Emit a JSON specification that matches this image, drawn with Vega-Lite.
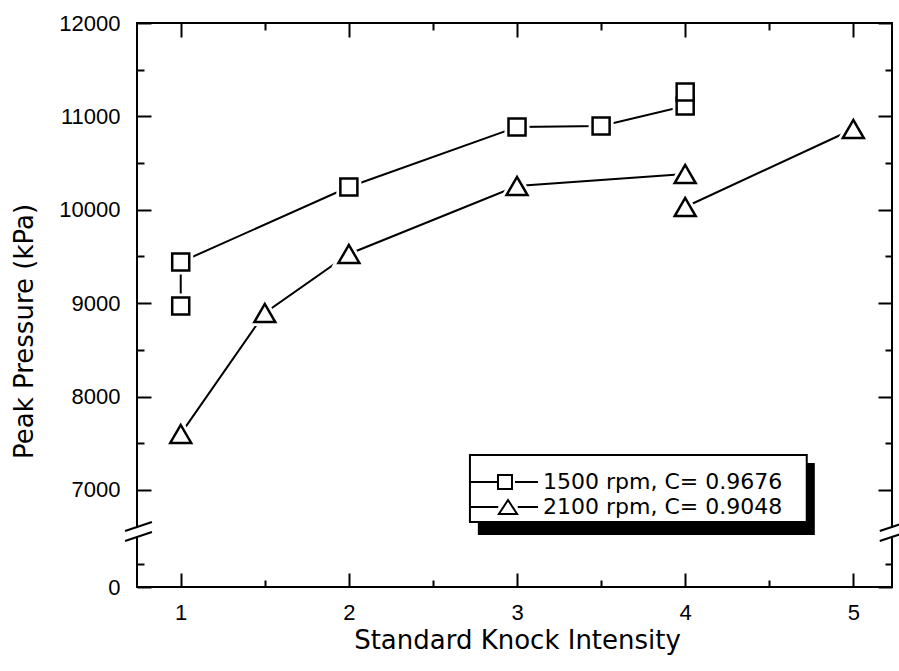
{
  "$schema": "https://vega.github.io/schema/vega-lite/v6.json",
  "width": 755,
  "height": 564,
  "autosize": {"type": "none"},
  "padding": {"left": 137, "top": 23, "right": 7, "bottom": 84},
  "background": "white",
  "config": {
    "view": {"stroke": "black", "strokeWidth": 2},
    "axis": {
      "tickColor": "black", "tickWidth": 2, "labelColor": "black", "titleColor": "black",
      "domain": false, "grid": false, "labelFont": "Liberation Sans", "labelFontSize": 22,
      "titleFont": "DejaVu Sans", "titleFontSize": 26, "titleFontWeight": "normal"
    }
  },
  "datasets": {
    "pts": [
      {"series": "1500 rpm, C= 0.9676", "seg": "a", "ord": 1, "x": 1, "y": 8970},
      {"series": "1500 rpm, C= 0.9676", "seg": "a", "ord": 2, "x": 1, "y": 9440},
      {"series": "1500 rpm, C= 0.9676", "seg": "a", "ord": 3, "x": 2, "y": 10244},
      {"series": "1500 rpm, C= 0.9676", "seg": "a", "ord": 4, "x": 3, "y": 10886},
      {"series": "1500 rpm, C= 0.9676", "seg": "a", "ord": 5, "x": 3.5, "y": 10897},
      {"series": "1500 rpm, C= 0.9676", "seg": "a", "ord": 6, "x": 4, "y": 11111},
      {"series": "1500 rpm, C= 0.9676", "seg": "a", "ord": 7, "x": 4, "y": 11261},
      {"series": "2100 rpm, C= 0.9048", "seg": "b", "ord": 1, "x": 1, "y": 7600},
      {"series": "2100 rpm, C= 0.9048", "seg": "b", "ord": 2, "x": 1.5, "y": 8895},
      {"series": "2100 rpm, C= 0.9048", "seg": "b", "ord": 3, "x": 2, "y": 9527},
      {"series": "2100 rpm, C= 0.9048", "seg": "b", "ord": 4, "x": 3, "y": 10255},
      {"series": "2100 rpm, C= 0.9048", "seg": "b", "ord": 5, "x": 4, "y": 10383},
      {"series": "2100 rpm, C= 0.9048", "seg": "c", "ord": 1, "x": 4, "y": 10030},
      {"series": "2100 rpm, C= 0.9048", "seg": "c", "ord": 2, "x": 5, "y": 10865}
    ],
    "brk": [
      {"x": 0.669, "y": 6561, "x2": 0.829, "y2": 6657},
      {"x": 0.669, "y": 492, "x2": 0.829, "y2": 589},
      {"x": 5.157, "y": 6561, "x2": 5.318, "y2": 6657},
      {"x": 5.157, "y": 492, "x2": 5.318, "y2": 589}
    ],
    "gap": [
      {"x": 0.669, "y": 546, "x2": 0.829, "y2": 6604},
      {"x": 5.157, "y": 546, "x2": 5.318, "y2": 6604}
    ],
    "box": [{"x": 2.720, "x2": 4.723, "y": 7375, "y2": 6657}],
    "shadow": [{"x": 2.767, "x2": 4.771, "y": 7289, "y2": 557}]
  },
  "layer": [
    {
      "data": {"name": "pts"},
      "mark": {"type": "line", "color": "black", "strokeWidth": 2},
      "encoding": {
        "x": {"field": "x", "type": "quantitative", "scale": {"domain": [0.74, 5.23], "nice": false, "zero": false},
          "axis": {"orient": "bottom", "values": [1, 2, 3, 4, 5], "format": "d", "labelFont": "Liberation Sans", "labelFontSize": 22, "tickSize": -14, "labelPadding": 29, "title": "Standard Knock Intensity", "titleX": 380, "titleY": 61, "titleAlign": "center", "titleBaseline": "alphabetic", "titleAnchor": null}},
        "y": {"field": "y", "type": "quantitative", "scale": {"domain": [0, 589, 6550, 12000], "range": [564, 509, 509, 0], "nice": false, "zero": false},
          "axis": {"orient": "left", "values": [0, 7000, 8000, 9000, 10000, 11000, 12000], "format": "d", "labelFont": "Liberation Sans", "labelFontSize": 22, "tickSize": -14, "labelPadding": 31, "title": "Peak Pressure (kPa)", "titleX": -113, "titleY": 308, "titleAngle": -90, "titleAlign": "center", "titleBaseline": "middle", "titleAnchor": null}},
        "detail": {"field": "seg"},
        "order": {"field": "ord", "type": "quantitative"}
      }
    },
    {
      "data": {"name": "pts"},
      "mark": {"type": "point", "filled": true, "fill": "white", "stroke": "white", "strokeWidth": 8, "opacity": 1, "size": 290},
      "encoding": {
        "x": {"field": "x", "type": "quantitative", "scale": {"domain": [0.74, 5.23], "nice": false, "zero": false},
          "axis": {"orient": "top", "values": [1, 2, 3, 4, 5], "tickSize": -14, "labels": false, "title": null}},
        "y": {"field": "y", "type": "quantitative", "scale": {"domain": [0, 589, 6550, 12000], "range": [564, 509, 509, 0], "nice": false, "zero": false},
          "axis": {"orient": "right", "values": [0, 7000, 8000, 9000, 10000, 11000, 12000], "tickSize": -14, "labels": false, "title": null}},
        "shape": {"field": "series", "type": "nominal", "legend": null,
          "scale": {"domain": ["1500 rpm, C= 0.9676", "2100 rpm, C= 0.9048"], "range": ["square", "M-1.23,1.06L1.23,1.06L0,-1.06Z"]}}
      }
    },
    {
      "data": {"name": "pts"},
      "mark": {"type": "point", "filled": true, "fill": "white", "stroke": "black", "strokeWidth": 2.5, "opacity": 1, "size": 290},
      "encoding": {
        "x": {"field": "x", "type": "quantitative", "scale": {"domain": [0.74, 5.23], "nice": false, "zero": false},
          "axis": {"orient": "bottom", "values": [1.5, 2.5, 3.5, 4.5], "tickSize": -7, "labels": false, "title": null}},
        "y": {"field": "y", "type": "quantitative", "scale": {"domain": [0, 589, 6550, 12000], "range": [564, 509, 509, 0], "nice": false, "zero": false},
          "axis": {"orient": "left", "values": [250, 7500, 8500, 9500, 10500, 11500], "tickSize": -7, "labels": false, "title": null}},
        "shape": {"field": "series", "type": "nominal", "legend": null,
          "scale": {"domain": ["1500 rpm, C= 0.9676", "2100 rpm, C= 0.9048"], "range": ["square", "M-1.23,1.06L1.23,1.06L0,-1.06Z"]}}
      }
    },
    {
      "data": {"name": "shadow"},
      "mark": {"type": "rect", "color": "black", "clip": false},
      "encoding": {
        "x": {"field": "x", "type": "quantitative", "axis": null, "scale": {"domain": [0.74, 5.23], "nice": false, "zero": false}},
        "x2": {"field": "x2"},
        "y": {"field": "y", "type": "quantitative", "axis": null, "scale": {"domain": [0, 589, 6550, 12000], "range": [564, 509, 509, 0], "nice": false, "zero": false}},
        "y2": {"field": "y2"}
      }
    },
    {
      "data": {"name": "box"},
      "mark": {"type": "rect", "fill": "white", "stroke": "black", "strokeWidth": 2, "clip": false},
      "encoding": {
        "x": {"field": "x", "type": "quantitative", "axis": null, "scale": {"domain": [0.74, 5.23], "nice": false, "zero": false}},
        "x2": {"field": "x2"},
        "y": {"field": "y", "type": "quantitative", "axis": null, "scale": {"domain": [0, 589, 6550, 12000], "range": [564, 509, 509, 0], "nice": false, "zero": false}},
        "y2": {"field": "y2"}
      }
    },
    {
      "data": {"name": "pts"},
      "transform": [{"filter": "false"}],
      "mark": {"type": "point", "filled": false, "color": "black", "size": 196, "strokeWidth": 2, "opacity": 1},
      "encoding": {
        "x": {"field": "x", "type": "quantitative", "scale": {"domain": [0.74, 5.23], "nice": false, "zero": false},
          "axis": {"orient": "top", "values": [1.5, 2.5, 3.5, 4.5], "tickSize": -7, "labels": false, "title": null}},
        "y": {"field": "y", "type": "quantitative", "scale": {"domain": [0, 589, 6550, 12000], "range": [564, 509, 509, 0], "nice": false, "zero": false},
          "axis": {"orient": "right", "values": [250, 7500, 8500, 9500, 10500, 11500], "tickSize": -7, "labels": false, "title": null}},
        "shape": {"field": "series", "type": "nominal",
          "scale": {"domain": ["1500 rpm, C= 0.9676", "2100 rpm, C= 0.9048"],
            "range": ["M-3.43,0H0.43M0.57,-1H2.57V1H0.57ZM3,0H6.29", "M-3.43,0H0.6M0.7,1H3.3L2,-1ZM3.4,0H6.29"]},
          "legend": {"orient": "none", "legendX": 333, "legendY": 435, "padding": 13, "title": null,
            "labelFont": "DejaVu Sans", "labelFontSize": 22, "labelColor": "black", "labelOffset": 38, "labelLimit": 500,
            "rowPadding": 3, "symbolSize": 196, "symbolStrokeWidth": 2, "symbolStrokeColor": "black",
            "symbolOpacity": 1}}
      }
    },
    {
      "data": {"name": "gap"},
      "mark": {"type": "rule", "color": "white", "strokeWidth": 8, "clip": false},
      "encoding": {
        "x": {"field": "x", "type": "quantitative", "axis": null, "scale": {"domain": [0.74, 5.23], "nice": false, "zero": false}},
        "x2": {"field": "x2"},
        "y": {"field": "y", "type": "quantitative", "axis": null, "scale": {"domain": [0, 589, 6550, 12000], "range": [564, 509, 509, 0], "nice": false, "zero": false}},
        "y2": {"field": "y2"}
      }
    },
    {
      "data": {"name": "brk"},
      "mark": {"type": "rule", "color": "black", "strokeWidth": 2, "clip": false},
      "encoding": {
        "x": {"field": "x", "type": "quantitative", "axis": null, "scale": {"domain": [0.74, 5.23], "nice": false, "zero": false}},
        "x2": {"field": "x2"},
        "y": {"field": "y", "type": "quantitative", "axis": null, "scale": {"domain": [0, 589, 6550, 12000], "range": [564, 509, 509, 0], "nice": false, "zero": false}},
        "y2": {"field": "y2"}
      }
    }
  ],
  "resolve": {
    "scale": {"shape": "independent"},
    "axis": {"x": "independent", "y": "independent"}
  }
}
